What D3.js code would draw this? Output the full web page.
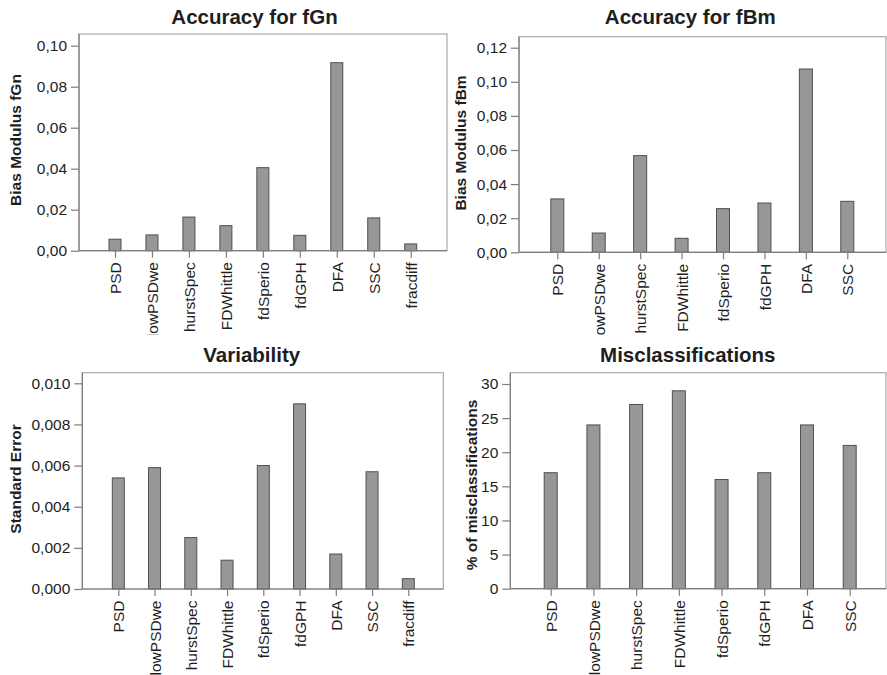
<!DOCTYPE html>
<html>
<head>
<meta charset="utf-8">
<script src="https://cdn.jsdelivr.net/npm/d3@7/dist/d3.min.js"></script>
<style>
  html, body { margin: 0; padding: 0; background: #fff; }
  svg { display: block; font-family: "Liberation Sans", Arial, Helvetica, sans-serif; }
</style>
</head>
<body>
<svg id="chart" width="887" height="675"></svg>
<script>
// ---- data ----
const methods9 = ["PSD", "lowPSDwe", "hurstSpec", "FDWhittle", "fdSperio", "fdGPH", "DFA", "SSC", "fracdiff"];
const methods8 = ["PSD", "lowPSDwe", "hurstSpec", "FDWhittle", "fdSperio", "fdGPH", "DFA", "SSC"];

const biasFgn = [0.0056, 0.0077, 0.0164, 0.0122, 0.0405, 0.0075, 0.0917, 0.0160, 0.0033];
const biasFbm = [0.0313, 0.0113, 0.0567, 0.0082, 0.0256, 0.0289, 0.1075, 0.0299];
const stdError = [0.0054, 0.0059, 0.0025, 0.0014, 0.0060, 0.0090, 0.0017, 0.0057, 0.0005];
const misclass = [17, 24, 27, 29, 16, 17, 24, 21];

const ticksFgn = [0, 0.02, 0.04, 0.06, 0.08, 0.10];
const ticksFbm = [0, 0.02, 0.04, 0.06, 0.08, 0.10, 0.12];
const ticksSE = [0, 0.002, 0.004, 0.006, 0.008, 0.010];
const ticksMis = [0, 5, 10, 15, 20, 25, 30];

const titles = ["Accuracy for fGn", "Accuracy for fBm", "Variability", "Misclassifications"];
const yTitles = ["Bias Modulus fGn", "Bias Modulus fBm", "Standard Error", "% of misclassifications"];

// ---- drawing ----
const svg = d3.select("#chart");
const TEXT = "#1e1e1e";
const commaFmt = p => v => d3.format("." + p + "f")(v).replace(".", ",");

svg.append("defs").append("clipPath").attr("id", "clipTop")
  .append("rect").attr("x", 0).attr("y", 0).attr("width", 887).attr("height", 335);

function panel(cfg) {
  const g = svg.append("g");
  if (cfg.clip) g.attr("clip-path", "url(#clipTop)");
  const f = cfg.frame;
  const y = d3.scaleLinear().domain([0, cfg.yMax]).range([f.b, cfg.yTop]);
  const x = d3.scalePoint().domain(cfg.cats).range(cfg.xRange);

  // frame (top/right lighter)
  g.append("rect").attr("x", f.l).attr("y", f.t).attr("width", f.r - f.l).attr("height", f.b - f.t)
    .attr("fill", "none").attr("stroke", "#a9a9a9").attr("stroke-width", 1.2);

  // bars
  g.selectAll("rect.bar").data(cfg.values).join("rect").attr("class", "bar")
    .attr("x", (d, i) => x(cfg.cats[i]) - cfg.bw / 2)
    .attr("y", d => y(d))
    .attr("width", cfg.bw)
    .attr("height", d => y(0) - y(d))
    .attr("fill", "#979797").attr("stroke", "#4f4f4f").attr("stroke-width", 1);

  // y axis
  const ya = d3.axisLeft(y).tickValues(cfg.ticks).tickFormat(cfg.fmt).tickSize(8).tickPadding(4);
  const yg = g.append("g").attr("transform", `translate(${f.l},0)`).call(ya);
  yg.select(".domain").attr("stroke", "#7d7d7d").attr("stroke-width", 1.2)
    .attr("d", `M0,${f.t}V${f.b}`);
  yg.selectAll(".tick line").attr("stroke", "#7d7d7d").attr("stroke-width", 1.2);
  yg.selectAll(".tick text").attr("fill", TEXT).style("font-size", "15.5px");

  // x axis
  const xa = d3.axisBottom(x).tickSize(7).tickPadding(4);
  const xg = g.append("g").attr("transform", `translate(0,${f.b})`).call(xa);
  xg.select(".domain").attr("stroke", "#7d7d7d").attr("stroke-width", 1.2)
    .attr("d", `M${f.l},0H${f.r}`);
  xg.selectAll(".tick line").attr("stroke", "#7d7d7d").attr("stroke-width", 1.2);
  xg.selectAll(".tick text")
    .attr("fill", TEXT).style("font-size", "15.5px")
    .attr("text-anchor", "end")
    .attr("transform", "rotate(-90)")
    .attr("x", -11.5).attr("y", 0).attr("dy", "0.36em");

  // title
  g.append("text").attr("x", cfg.titleX).attr("y", cfg.titleY)
    .attr("text-anchor", "middle").attr("fill", TEXT)
    .style("font-size", "20.5px").style("font-weight", "bold").text(cfg.title);

  // y title
  g.append("text")
    .attr("transform", `translate(${cfg.yTitleX},${cfg.yTitleY}) rotate(-90)`)
    .attr("text-anchor", "middle").attr("dy", "0.36em").attr("fill", TEXT)
    .style("font-size", "15.5px").style("font-weight", "bold").text(cfg.yTitle);
}

panel({
  cats: methods9, values: biasFgn, ticks: ticksFgn, fmt: commaFmt(2), yMax: 0.10,
  frame: { l: 79, r: 447, t: 34, b: 250.7 }, yTop: 45.7, xRange: [115, 410.7], bw: 12,
  title: titles[0], titleX: 254.5, titleY: 24, yTitle: yTitles[0], yTitleX: 15.8, yTitleY: 140, clip: true
});
panel({
  cats: methods8, values: biasFbm, ticks: ticksFbm, fmt: commaFmt(2), yMax: 0.12,
  frame: { l: 519, r: 886, t: 36.7, b: 252.3 }, yTop: 47.7, xRange: [557.3, 847.3], bw: 13,
  title: titles[1], titleX: 690.3, titleY: 23.5, yTitle: yTitles[1], yTitleX: 460.5, yTitleY: 143, clip: true
});
panel({
  cats: methods9, values: stdError, ticks: ticksSE, fmt: commaFmt(3), yMax: 0.010,
  frame: { l: 82.3, r: 443.3, t: 372.7, b: 589 }, yTop: 383.3, xRange: [118.3, 408.3], bw: 12,
  title: titles[2], titleX: 251.7, titleY: 361.7, yTitle: yTitles[2], yTitleX: 15, yTitleY: 479
});
panel({
  cats: methods8, values: misclass, ticks: ticksMis, fmt: d3.format("d"), yMax: 30,
  frame: { l: 510.3, r: 886, t: 372.7, b: 588.7 }, yTop: 384, xRange: [550.7, 849.7], bw: 13,
  title: titles[3], titleX: 687.8, titleY: 361.7, yTitle: yTitles[3], yTitleX: 471, yTitleY: 485
});
</script>
</body>
</html>
